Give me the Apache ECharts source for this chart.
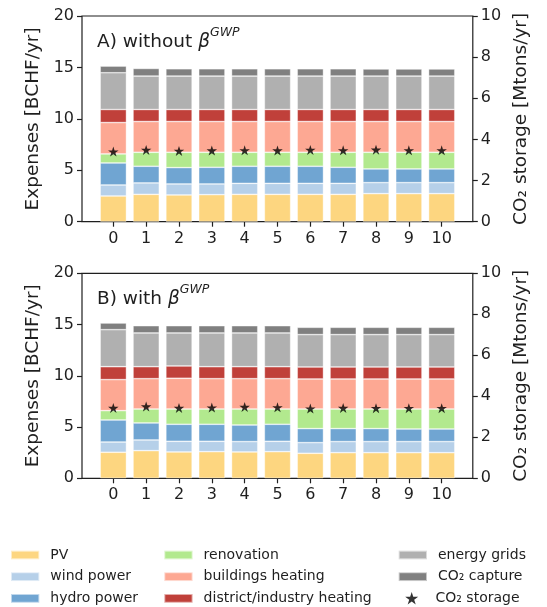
<!DOCTYPE html>
<html><head><meta charset="utf-8">
<script src="https://cdn.jsdelivr.net/npm/echarts@6/dist/echarts.min.js"></script>
<style>html,body{margin:0;padding:0;background:#fff}#c{width:547px;height:607px}</style>
</head><body><div id="c"></div>
<script>
const categories = ['0','1','2','3','4','5','6','7','8','9','10'];
const seriesNames = ['PV','wind power','hydro power','renovation','buildings heating','district/industry heating','energy grids','CO₂ capture'];
const storageName = 'CO₂ storage';
const yLeftTicks = [0,5,10,15,20];
const yRightTicks = [0,2,4,6,8,10];

// Panel A: without beta GWP (BCHF/yr per component)
const pvA        = [2.50,2.66,2.60,2.63,2.66,2.66,2.66,2.66,2.73,2.73,2.73];
const windA      = [1.07,1.11,1.07,1.04,1.07,1.07,1.07,1.07,1.07,1.07,1.07];
const hydroA     = [2.14,1.62,1.59,1.62,1.66,1.66,1.66,1.56,1.33,1.33,1.33];
const renovA     = [0.88,1.36,1.49,1.46,1.36,1.36,1.36,1.46,1.62,1.62,1.62];
const buildA     = [3.05,2.99,2.99,2.99,2.99,2.99,2.99,2.99,2.99,2.99,2.99];
const districtA  = [1.27,1.17,1.17,1.17,1.17,1.17,1.17,1.17,1.17,1.17,1.17];
const gridsA     = [3.57,3.25,3.25,3.25,3.25,3.25,3.25,3.25,3.25,3.25,3.25];
const captureA   = [0.65,0.74,0.71,0.71,0.71,0.71,0.71,0.71,0.69,0.69,0.69];
const storageA   = [3.41,3.49,3.44,3.46,3.47,3.46,3.49,3.47,3.50,3.47,3.47];

// Panel B: with beta GWP
const pvB        = [2.54,2.70,2.57,2.60,2.57,2.60,2.44,2.50,2.50,2.50,2.50];
const windB      = [1.00,1.04,1.04,1.01,1.01,1.01,1.04,1.08,1.08,1.08,1.08];
const hydroB     = [2.15,1.66,1.66,1.66,1.62,1.66,1.37,1.27,1.27,1.23,1.23];
const renovB     = [0.91,1.36,1.49,1.49,1.56,1.49,1.91,1.91,1.91,1.95,1.95];
const buildB     = [3.03,2.96,3.00,2.96,2.96,2.96,2.93,2.93,2.93,2.93,2.93];
const districtB  = [1.26,1.17,1.20,1.17,1.17,1.17,1.17,1.17,1.17,1.17,1.17];
const gridsB     = [3.61,3.29,3.22,3.29,3.29,3.29,3.16,3.16,3.16,3.16,3.16];
const captureB   = [0.65,0.71,0.71,0.71,0.71,0.71,0.71,0.71,0.71,0.71,0.71];
const storageB   = [3.43,3.50,3.43,3.45,3.48,3.46,3.40,3.43,3.42,3.42,3.42];

const colors = ['#fdd680','#b6d0e9','#70a5d2','#b2e98e','#fda893','#c0403a','#b0b0b0','#808080'];
const STAR = 'path://M50 0 L61.23 34.55 L97.55 34.55 L68.17 55.9 L79.39 90.45 L50 69.1 L20.61 90.45 L31.83 55.9 L2.45 34.55 L38.77 34.55 Z';

const panelA = [pvA,windA,hydroA,renovA,buildA,districtA,gridsA,captureA];
const panelB = [pvB,windB,hydroB,renovB,buildB,districtB,gridsB,captureB];

const FONT = 'DejaVu Sans';
const INK = '#1f1f1f';

const G = [
  {top:16, height:205.7},
  {top:273.3, height:205}
];
const frameLeft = 82, frameWidth = 390.8;
const barLeft = 96.9, barWidth = 361.2;

const grid = [], xAxis = [], yAxis = [], series = [];
G.forEach((g, p) => {
  grid.push({left:frameLeft, top:g.top, width:frameWidth, height:g.height, show:true, borderColor:INK, borderWidth:1.2, backgroundColor:'transparent'});
  grid.push({left:barLeft, top:g.top, width:barWidth, height:g.height});
  const fg = 2*p, bg = 2*p+1;
  xAxis.push({gridIndex:fg, type:'value', show:false, min:0, max:1});
  xAxis.push({gridIndex:bg, type:'category', data:categories, boundaryGap:true,
    axisLine:{show:false},
    axisTick:{show:true, alignWithLabel:true, length:5, lineStyle:{color:INK, width:1.2}},
    axisLabel:{fontSize:16, color:INK, margin:9, fontFamily:FONT, interval:0}});
  yAxis.push({gridIndex:fg, type:'value', show:false, min:0, max:1});
  yAxis.push({gridIndex:bg, type:'value', position:'left', offset:barLeft-frameLeft, min:yLeftTicks[0], max:yLeftTicks[yLeftTicks.length-1], interval:5,
    splitLine:{show:false}, axisLine:{show:false},
    axisTick:{show:true, length:5, lineStyle:{color:INK, width:1.2}},
    axisLabel:{fontSize:16, color:INK, margin:8, fontFamily:FONT},
    name:'Expenses [BCHF/yr]', nameLocation:'middle', nameRotate:90, nameGap:33,
    nameTextStyle:{fontSize:18.5, color:INK, fontFamily:FONT}});
  yAxis.push({gridIndex:bg, type:'value', position:'right', offset:(frameLeft+frameWidth)-(barLeft+barWidth), min:yRightTicks[0], max:yRightTicks[yRightTicks.length-1], interval:2,
    splitLine:{show:false}, axisLine:{show:false},
    axisTick:{show:true, length:5, lineStyle:{color:INK, width:1.2}},
    axisLabel:{fontSize:16, color:INK, margin:8, fontFamily:FONT},
    name:'CO₂ storage [Mtons/yr]', nameLocation:'middle', nameRotate:90, nameGap:29,
    nameTextStyle:{fontSize:18.5, color:INK, fontFamily:FONT}});
  const data = p === 0 ? panelA : panelB;
  seriesNames.forEach((n, i) => {
    series.push({type:'bar', name:n, xAxisIndex:2*p+1, yAxisIndex:3*p+1, stack:'s'+p, barWidth:'80%',
      data:data[i], itemStyle:{color:colors[i], borderColor:'rgba(255,255,255,0.55)', borderWidth:0.7}, emphasis:{disabled:true}});
  });
  series.push({type:'scatter', name:storageName, xAxisIndex:2*p+1, yAxisIndex:3*p+2, symbol:STAR, symbolSize:[10.5,10],
    data: p === 0 ? storageA : storageB, itemStyle:{color:'#000'}, z:5});
});

const titleRich = {
  a:{fontSize:18.5, fontFamily:FONT, fontWeight:'normal', color:INK, lineHeight:32},
  b:{fontSize:18.5, fontFamily:FONT, fontWeight:'normal', fontStyle:'italic', color:INK, lineHeight:32},
  s:{fontSize:12.5, fontFamily:FONT, fontWeight:'normal', fontStyle:'italic', color:INK, lineHeight:12, verticalAlign:'top'}
};
const title = [
  {text:'{a|A) without }{b|β}{s|GWP}', left:97, top:26, padding:0, textStyle:{fontWeight:'normal', rich:titleRich}},
  {text:'{a|B) with }{b|β}{s|GWP}', left:97, top:283.3, padding:0, textStyle:{fontWeight:'normal', rich:titleRich}}
];

const legBase = {orient:'vertical', itemWidth:28.3, itemHeight:8.7, itemGap:7.7, padding:0, selectedMode:false,
  textStyle:{fontSize:14, color:INK, fontFamily:FONT, lineHeight:14, padding:[0,0,0,6]}};
const legend = [
  Object.assign({}, legBase, {left:10, top:548, data:seriesNames.slice(0,3).map(n=>({name:n, icon:'rect'}))}),
  Object.assign({}, legBase, {left:163.3, top:548, data:seriesNames.slice(3,6).map(n=>({name:n, icon:'rect'}))}),
  Object.assign({}, legBase, {left:397.7, top:548, data:seriesNames.slice(6,8).map(n=>({name:n, icon:'rect'}))}),
  Object.assign({}, legBase, {left:405.2, top:591.3, itemWidth:13, itemHeight:13,
    textStyle:Object.assign({}, legBase.textStyle, {padding:[0,0,0,12.3]}),
    data:[{name:storageName, icon:STAR}]})
];

const chart = echarts.init(document.getElementById('c'), null, {renderer:'canvas'});
chart.setOption({animation:false, backgroundColor:'#fff', textStyle:{fontFamily:FONT},
  title, grid, xAxis, yAxis, series, legend});
</script></body></html>
